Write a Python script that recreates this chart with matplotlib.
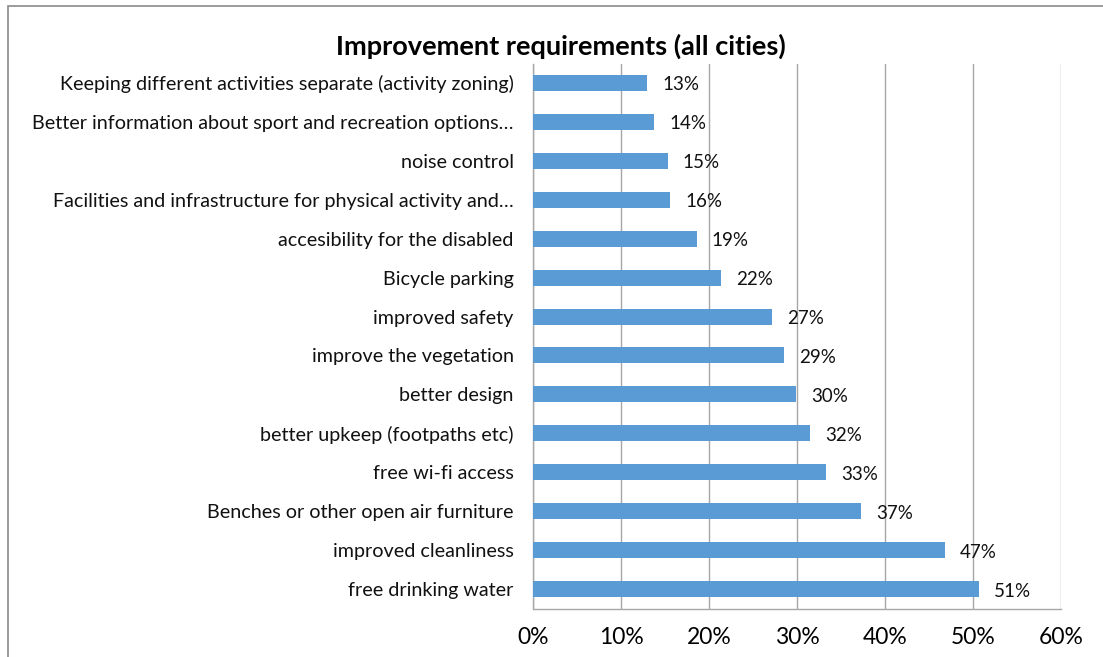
import matplotlib
matplotlib.use("Agg")
import matplotlib.pyplot as plt
from matplotlib.patches import Rectangle
from matplotlib.ticker import FuncFormatter

# Werte (Reihenfolge von unten nach oben)
categories = [
    "free drinking water",
    "improved cleanliness",
    "Benches or other open air furniture",
    "free wi-fi access",
    "better upkeep (footpaths etc)",
    "better design",
    "improve the vegetation",
    "improved safety",
    "Bicycle parking",
    "accesibility for the disabled",
    "Facilities and infrastructure for physical activity and\u2026",
    "noise control",
    "Better information about sport and recreation options\u2026",
    "Keeping different activities separate (activity zoning)",
]
values = [50.7, 46.8, 37.3, 33.3, 31.5, 29.9, 28.5, 27.2, 21.4, 18.6, 15.6, 15.3, 13.8, 13.0]
labels = ["51%", "47%", "37%", "33%", "32%", "30%", "29%", "27%", "22%", "19%", "16%", "15%", "14%", "13%"]
xticks = [0, 10, 20, 30, 40, 50, 60]

plt.rcParams["font.family"] = ["Lato", "DejaVu Sans"]

W, H = 1103, 657
fig = plt.figure(figsize=(W / 100, H / 100), dpi=100)

# Rahmen um das Diagramm (rechts/unten abgeschnitten)
fig.patches.append(Rectangle((8 / W, -0.1), 1.2, 1.1 - 6 / H, transform=fig.transFigure,
                             fill=False, edgecolor="#8a8a8a", linewidth=1.2))

ax = fig.add_axes([533 / W, 1 - 608.5 / H, 528 / W, 545 / H])
y = list(range(len(categories)))
ax.barh(y, values, height=0.41, color="#5b9bd5", zorder=3)

for yi, v, lab in zip(y, values, labels):
    ax.annotate(lab, (v, yi), xytext=(15, -2), textcoords="offset pixels",
                ha="left", va="center", fontsize=13.5, color="#111111")

ax.set_xlim(0, 60)
ax.set_ylim(-0.5, len(categories) - 0.5)
ax.set_xticks(xticks)
ax.xaxis.set_major_formatter(FuncFormatter(lambda x, _: f"{x:.0f}%"))
ax.set_yticks(y)
ax.set_yticklabels(categories, fontsize=14.2, color="#111111")
ax.tick_params(axis="y", length=0, pad=14)
ax.tick_params(axis="x", length=0, pad=13, labelsize=16.5)
ax.grid(axis="x", color="#a6a6a6", linewidth=1, zorder=0)

for side in ["top", "right"]:
    ax.spines[side].set_visible(False)
for side in ["left", "bottom"]:
    ax.spines[side].set_color("#a6a6a6")
    ax.spines[side].set_linewidth(1)

fig.text(561 / W, 1 - 46 / H, "Improvement requirements (all cities)",
         ha="center", va="center", fontsize=19.5, fontweight="bold")

fig.savefig("out.png", dpi=100)
